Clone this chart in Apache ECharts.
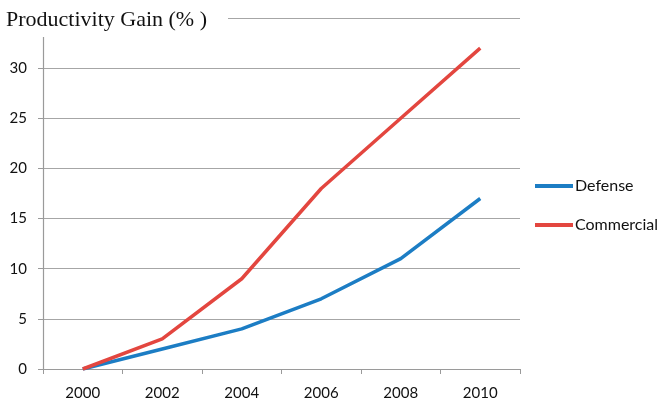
<!DOCTYPE html>
<html>
<head>
<meta charset="utf-8">
<style>
  html, body { margin: 0; padding: 0; background: #fff; }
  #chart { width: 663px; height: 405px; }
</style>
<script src="https://cdn.jsdelivr.net/npm/echarts@6/dist/echarts.min.js"></script>
</head>
<body>
<div id="chart"></div>
<script>
// Productivity gain by year, defense vs. commercial
const years = ['2000', '2002', '2004', '2006', '2008', '2010'];
const defense = [0, 2, 4, 7, 11, 17];
const commercial = [0, 3, 9, 18, 25, 32];
const yTicks = { min: 0, max: 35, interval: 5 };

const chart = echarts.init(document.getElementById('chart'), null, { renderer: 'canvas' });

const labelFont = 'Lato, "Open Sans", "Liberation Sans", sans-serif';

chart.setOption({
  animation: false,
  backgroundColor: '#ffffff',
  title: {
    text: 'Productivity Gain (% )',
    left: 6,
    top: 9,
    padding: 0,
    textStyle: {
      fontFamily: '"Liberation Serif", "DejaVu Serif", serif',
      fontSize: 22,
      fontWeight: 'normal',
      color: '#111'
    },
    z: 10
  },
  // white box behind the title, hiding the top of the axis and gridline
  graphic: [{
    type: 'rect',
    left: 0,
    top: 0,
    shape: { width: 228, height: 37 },
    style: { fill: '#ffffff' },
    z: 5
  }],
  legend: {
    orient: 'vertical',
    left: 535,
    top: 178,
    padding: 0,
    itemGap: 23,
    itemWidth: 38,
    itemHeight: 4,
    icon: 'rect',
    textStyle: { fontFamily: labelFont, fontSize: 16, color: '#111', padding: [0, 0, 0, -3] },
    data: ['Defense', 'Commercial']
  },
  grid: { left: 43, right: 143, top: 18, bottom: 36, containLabel: false },
  xAxis: {
    type: 'category',
    data: years,
    boundaryGap: true,
    axisLine: { lineStyle: { color: '#9a9a9a', width: 1.2 } },
    axisTick: { show: true, length: 5, inside: false, alignWithLabel: false, lineStyle: { color: '#9a9a9a' } },
    axisLabel: { margin: 17, fontFamily: labelFont, fontSize: 15, color: '#111' },
    splitLine: { show: false }
  },
  yAxis: {
    type: 'value',
    min: yTicks.min,
    max: yTicks.max,
    interval: yTicks.interval,
    axisLine: { show: true, lineStyle: { color: '#9a9a9a', width: 1.2 } },
    axisTick: { show: true, length: 5, lineStyle: { color: '#9a9a9a' } },
    axisLabel: {
      margin: 16,
      fontFamily: labelFont,
      fontSize: 15,
      color: '#111',
      formatter: v => (v === 35 ? '' : v)
    },
    splitLine: { show: true, lineStyle: { color: '#a6a6a6', width: 1.2 } }
  },
  series: [
    {
      name: 'Defense',
      type: 'line',
      data: defense,
      symbol: 'none',
      lineStyle: { color: '#1c7dc4', width: 3.5 },
      itemStyle: { color: '#1c7dc4' },
      z: 3
    },
    {
      name: 'Commercial',
      type: 'line',
      data: commercial,
      symbol: 'none',
      lineStyle: { color: '#e3463f', width: 3.5 },
      itemStyle: { color: '#e3463f' },
      z: 3
    }
  ]
});
</script>
</body>
</html>
